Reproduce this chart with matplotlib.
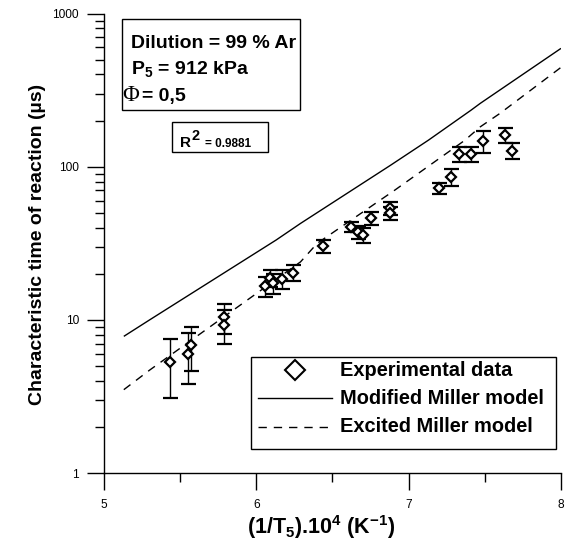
import matplotlib
matplotlib.use("Agg")
import matplotlib.pyplot as plt
from matplotlib.lines import Line2D
from matplotlib.patches import Rectangle
from matplotlib.ticker import LogLocator, FixedLocator, FixedFormatter, NullFormatter

plt.rcParams['font.family'] = ['Liberation Sans', 'DejaVu Sans']

# ---- data ----
exp_x = [5.43, 5.55, 5.57, 5.79, 5.79, 6.06, 6.09, 6.11, 6.17, 6.24, 6.44, 6.62,
         6.67, 6.70, 6.75, 6.88, 6.88, 7.20, 7.28, 7.33, 7.41, 7.49, 7.63, 7.68]
exp_y = [5.3, 6.0, 6.8, 10.4, 9.3, 16.6, 18.8, 17.3, 18.5, 20.3, 30.3, 40.5,
         37.3, 35.8, 46.2, 53.4, 49.6, 72.8, 85.9, 120.8, 120.8, 147.6, 160.8, 127.0]
exp_err = [2.2, 2.2, 2.2, 2.3, 2.3, 2.5, 2.5, 2.5, 2.5, 2.5, 2.9, 3.0,
           3.5, 3.9, 4.6, 5.0, 5.0, 6.0, 11.0, 14.0, 14.0, 24.0, 18.0, 15.0]

mod_x = [5.13, 5.30, 6.13, 6.29, 6.88, 7.13, 7.41, 7.47, 8.0]
mod_y = [7.8, 10.0, 33.2, 42.6, 102.0, 149.0, 234.0, 259.0, 592.0]

exc_x = [5.13, 5.30, 6.29, 6.40, 6.91, 7.37, 7.47, 7.60, 8.0]
exc_y = [3.5, 4.7, 23.9, 31.6, 70.4, 149.0, 182.0, 223.0, 445.0]

y_ticks = [1, 10, 100, 1000]
y_labels = ['1', '10', '100', '1000']
x_ticks = [5, 6, 7, 8]
x_labels = ['5', '6', '7', '8']

legend_labels = ['Experimental data', 'Modified Miller model', 'Excited Miller model']
info_lines = ['Dilution = 99 % Ar', 'P', '= 0,5']

W, H = 568, 542
fig = plt.figure(figsize=(W / 100, H / 100), dpi=100)


def fx(px):
    return px / W


def fy(py):
    return 1 - py / H


ax = fig.add_axes([fx(104), fy(473), (561 - 104) / W, (473 - 13.5) / H])
ax.set_yscale('log')
ax.set_xlim(5, 8)
ax.set_ylim(1, 1000)

ax.plot(mod_x, mod_y, color='black', lw=1.0, solid_capstyle='butt')
ax.plot(exc_x, exc_y, color='black', lw=1.0, linestyle=(0, (6, 5)))
ax.errorbar(exp_x, exp_y, yerr=exp_err, fmt='D', mfc='white', mec='black',
            ms=4.6, mew=1.6, ecolor='black', elinewidth=1.0, capsize=5.4,
            capthick=1.0, zorder=3)

for s in ['top', 'right']:
    ax.spines[s].set_visible(False)
for s in ['left', 'bottom']:
    ax.spines[s].set_linewidth(1.0)

ax.yaxis.set_major_locator(FixedLocator(y_ticks))
ax.yaxis.set_major_formatter(FixedFormatter(y_labels))
ax.yaxis.set_minor_locator(LogLocator(base=10, subs=range(2, 10)))
ax.yaxis.set_minor_formatter(NullFormatter())
ax.xaxis.set_major_locator(FixedLocator(x_ticks))
ax.xaxis.set_major_formatter(FixedFormatter(x_labels))
ax.xaxis.set_minor_locator(FixedLocator([5.5, 6.5, 7.5]))

ax.tick_params(axis='both', which='major', length=12, width=1.0, direction='out',
               labelsize=8.6, colors='black')
ax.tick_params(axis='both', which='minor', length=6.5, width=1.0, direction='out')
ax.tick_params(axis='y', which='major', pad=6)
ax.tick_params(axis='x', which='major', pad=7)

ax.set_ylabel('Characteristic time of reaction (µs)', fontsize=14, fontweight='bold')
ax.yaxis.set_label_coords((38 - 104) / 457, (473 - 244) / 459.5)
ax.yaxis.label.set_va('center')
ax.set_xlabel(r'(1/T$\mathregular{_5}$).10$\mathregular{^4}$ (K$\mathregular{^{-1}}$)',
              fontsize=15.5, fontweight='bold')
ax.xaxis.set_label_coords((321 - 104) / 457, -(527 - 473) / 459.5)
ax.xaxis.label.set_va('center')

# ---- info box ----
fig.add_artist(Rectangle((fx(122), fy(110)), (300 - 122) / W, (110 - 19) / H,
                         transform=fig.transFigure, fill=False, ec='black', lw=1.0))
fig.text(fx(131), fy(48), info_lines[0], fontsize=14, fontweight='bold', va='baseline')
fig.text(fx(131), fy(74), r'P$\mathregular{_5}$ = 912 kPa', fontsize=14,
         fontweight='bold', va='baseline')
fig.text(fx(122.5), fy(101), 'Φ', fontsize=16.5, family='Liberation Serif', va='baseline')
fig.text(fx(142), fy(101), info_lines[2], fontsize=14, fontweight='bold', va='baseline')

# ---- R2 box ----
fig.add_artist(Rectangle((fx(172), fy(152)), (268 - 172) / W, (152 - 122) / H,
                         transform=fig.transFigure, fill=False, ec='black', lw=1.0))
fig.text(fx(180), fy(146.5), 'R', fontsize=11, fontweight='bold', va='baseline')
fig.text(fx(191), fy(140.5), '2', fontsize=10.5, fontweight='bold', va='baseline')
fig.text(fx(205), fy(146.5), '= 0.9881', fontsize=8.5, fontweight='bold', va='baseline')

# ---- legend ----
fig.add_artist(Rectangle((fx(251), fy(449)), (556 - 251) / W, (449 - 357) / H,
                         transform=fig.transFigure, fill=False, ec='black', lw=1.0))
fig.add_artist(Line2D([fx(295)], [fy(370)], marker='D', ms=10.5, mfc='white',
                      mec='black', mew=1.5, transform=fig.transFigure))
fig.add_artist(Line2D([fx(258), fx(332)], [fy(398), fy(398)], color='black', lw=1.0,
                      transform=fig.transFigure))
fig.add_artist(Line2D([fx(258), fx(332)], [fy(427), fy(427)], color='black', lw=1.0,
                      linestyle=(0, (6, 5)), transform=fig.transFigure))
for lab, yy in zip(legend_labels, [370, 398, 427]):
    fig.text(fx(340), fy(yy), lab, fontsize=14.4, fontweight='bold', va='center')

fig.savefig('out.png', dpi=100)
